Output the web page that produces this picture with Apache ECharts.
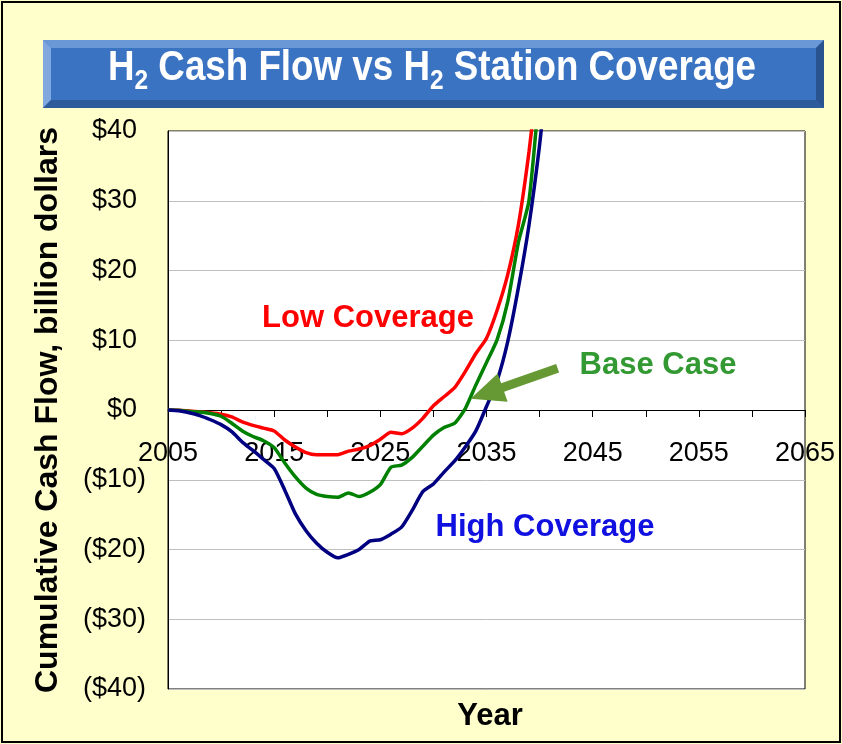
<!DOCTYPE html>
<html>
<head>
<meta charset="utf-8">
<title>H2 Cash Flow vs H2 Station Coverage</title>
<script src="https://cdn.jsdelivr.net/npm/echarts@6.0.0/dist/echarts.min.js"></script>
<style>
  html, body { margin: 0; padding: 0; background: #ffffcc; }
  #chart { width: 842px; height: 744px; }
</style>
</head>
<body>
<div id="chart"></div>
<script>
// cumulative cash flow, billion dollars
const years = [2005, 2006, 2007, 2008, 2009, 2010, 2011, 2012, 2013, 2014, 2015, 2016,
  2017, 2018, 2019, 2020, 2021, 2022, 2023, 2024, 2025, 2026, 2027, 2028, 2029, 2030,
  2031, 2032, 2033, 2034, 2035, 2036, 2037, 2038, 2039, 2040, 2041];
const lowCoverage = [0, -0.05, -0.15, -0.25, -0.4, -0.6, -1.0, -1.7, -2.2, -2.6, -3.0, -4.3,
  -5.3, -6.1, -6.4, -6.4, -6.4, -5.9, -5.6, -5.1, -4.2, -3.2, -3.4, -2.6, -1.2, 0.6,
  1.9, 3.2, 5.5, 8.1, 10.3, 14.3, 19.4, 26.5, 37, 50, 64];
const baseCase = [0, -0.05, -0.2, -0.3, -0.5, -0.9, -1.9, -3.0, -3.8, -4.4, -5.4, -7.6,
  -9.6, -11.2, -12.1, -12.4, -12.5, -11.9, -12.4, -11.8, -10.7, -8.2, -7.9, -6.8, -5.2, -3.6,
  -2.5, -1.9, 0.2, 3.6, 6.8, 10.1, 15.5, 24, 30, 46, 62];
const highCoverage = [0, -0.1, -0.4, -0.8, -1.4, -2.1, -3.1, -4.6, -5.8, -7.1, -8.4, -11.5,
  -14.9, -17.3, -19.1, -20.4, -21.2, -20.7, -20.0, -18.8, -18.6, -17.8, -16.8, -14.4, -11.7, -10.6,
  -8.9, -7.3, -5.3, -3.0, 0.5, 4.2, 9.8, 17.5, 26.5, 38, 52];
const xLabels = [2005, 2015, 2025, 2035, 2045, 2055, 2065];

const chart = echarts.init(document.getElementById("chart"));

function pairs(vals) {
  return years.map((y, i) => [y, vals[i]]);
}

function money(v) {
  if (v < 0) return "($" + (-v) + ")";
  return "$" + v + "{h|)}"; // hidden bracket keeps the digits lined up like Excel
}

const font = "Liberation Sans, Arial, sans-serif";
const gridTop = 131, gridBottom = 55;
const plotH = 744 - gridTop - gridBottom;

chart.setOption({
  backgroundColor: "#ffffcc",
  animation: false,
  grid: {
    left: 168,
    top: gridTop,
    right: 37,
    bottom: gridBottom,
    show: true,
    backgroundColor: "#fff",
    borderColor: "#000",
    borderWidth: 1,
  },
  xAxis: {
    type: "value",
    min: 2005,
    max: 2065,
    interval: 5,
    // the axis crosses at $0, halfway up the plot
    offset: -plotH / 2,
    axisLine: { onZero: false, lineStyle: { color: "#000", width: 1 } },
    axisTick: { show: true, length: 7, lineStyle: { color: "#000" } },
    splitLine: { show: false },
    axisLabel: {
      margin: 30,
      color: "#000",
      fontFamily: font,
      fontSize: 27,
      formatter: (v) => (xLabels.indexOf(v) >= 0 ? String(v) : ""),
    },
  },
  yAxis: {
    type: "value",
    min: -40,
    max: 40,
    interval: 10,
    name: "Cumulative Cash Flow, billion dollars",
    nameLocation: "middle",
    nameRotate: 90,
    nameGap: 104,
    nameTextStyle: { color: "#000", fontFamily: font, fontSize: 32, fontWeight: "bold" },
    axisLine: { show: true, lineStyle: { color: "#000" } },
    axisTick: { show: false },
    splitLine: { lineStyle: { color: "#bfbfbf", width: 1 } },
    axisLabel: {
      margin: 22,
      color: "#000",
      fontFamily: font,
      fontSize: 27,
      formatter: money,
      rich: { h: { color: "rgba(0,0,0,0)", fontFamily: font, fontSize: 27 } },
    },
  },
  series: [
    {
      name: "Low Coverage",
      type: "line",
      data: pairs(lowCoverage),
      showSymbol: false,
      smooth: 0.2,
      lineStyle: { color: "#ff0000", width: 3.5 },
      z: 3,
    },
    {
      name: "Base Case",
      type: "line",
      data: pairs(baseCase),
      showSymbol: false,
      smooth: 0.2,
      lineStyle: { color: "#008000", width: 3.5 },
      z: 3,
    },
    {
      name: "High Coverage",
      type: "line",
      data: pairs(highCoverage),
      showSymbol: false,
      smooth: 0.2,
      lineStyle: { color: "#000080", width: 3.5 },
      z: 3,
    },
  ],
});

// title banner with bevelled edges
const bx0 = 43, by0 = 40, bx1 = 824, by1 = 108, bv = 8;
const graphics = [
  { type: "rect", z: 10, shape: { x: 2, y: 2, width: 838, height: 740 },
    style: { fill: "none", stroke: "#000", lineWidth: 2 } },
  { type: "rect", z: 10, shape: { x: bx0, y: by0, width: bx1 - bx0, height: by1 - by0 },
    style: { fill: "#3b73c3" } },
  { type: "polygon", z: 11, shape: { points: [[bx0, by0], [bx1, by0], [bx1 - bv, by0 + bv], [bx0 + bv, by0 + bv]] },
    style: { fill: "#6a98d6" } },
  { type: "polygon", z: 11, shape: { points: [[bx0, by0], [bx0 + bv, by0 + bv], [bx0 + bv, by1 - bv], [bx0, by1]] },
    style: { fill: "#80a7de" } },
  { type: "polygon", z: 11, shape: { points: [[bx0, by1], [bx0 + bv, by1 - bv], [bx1 - bv, by1 - bv], [bx1, by1]] },
    style: { fill: "#2d5b9c" } },
  { type: "polygon", z: 11, shape: { points: [[bx1, by0], [bx1, by1], [bx1 - bv, by1 - bv], [bx1 - bv, by0 + bv]] },
    style: { fill: "#29538f" } },
  { type: "text", z: 12, x: 432, y: 68, scaleX: 0.875,
    style: {
      text: "H{s|2} Cash Flow vs H{s|2} Station Coverage",
      font: "bold 42px " + font,
      fill: "#fff",
      align: "center",
      verticalAlign: "middle",
      textShadowColor: "#1a1a1a",
      textShadowOffsetX: 2,
      textShadowOffsetY: 2,
      rich: {
        s: { fontSize: 28, fontWeight: "bold", fontFamily: font, fill: "#fff", padding: [26, 0, 0, 0],
          textShadowColor: "#1a1a1a", textShadowOffsetX: 2, textShadowOffsetY: 2 },
      },
    } },
  { type: "text", z: 12, x: 368, y: 318,
    style: { text: "Low Coverage", font: "bold 31px " + font, fill: "#ff0000", align: "center", verticalAlign: "middle" } },
  { type: "text", z: 12, x: 658, y: 365,
    style: { text: "Base Case", font: "bold 31px " + font, fill: "#339933", align: "center", verticalAlign: "middle" } },
  { type: "text", z: 12, x: 545, y: 527,
    style: { text: "High Coverage", font: "bold 31px " + font, fill: "#1010e0", align: "center", verticalAlign: "middle" } },
  { type: "text", z: 12, x: 490, y: 716,
    style: { text: "Year", font: "bold 31px " + font, fill: "#000", align: "center", verticalAlign: "middle" } },
];

// arrow pointing at the base case curve, anchored in data space
const from = chart.convertToPixel({ gridIndex: 0 }, [2041.7, 6.0]);
const tip = chart.convertToPixel({ gridIndex: 0 }, [2033.5, 1.6]);
const dx = tip[0] - from[0], dy = tip[1] - from[1];
const len = Math.sqrt(dx * dx + dy * dy);
const ux = dx / len, uy = dy / len, nx = -uy, ny = ux;
const head = 34, hw = 15, sw = 4.5;
const bxp = tip[0] - ux * head, byp = tip[1] - uy * head;
graphics.push({
  type: "polygon", z: 12,
  shape: { points: [
    [from[0] + nx * sw, from[1] + ny * sw],
    [bxp + nx * sw, byp + ny * sw],
    [bxp + nx * hw, byp + ny * hw],
    tip,
    [bxp - nx * hw, byp - ny * hw],
    [bxp - nx * sw, byp - ny * sw],
    [from[0] - nx * sw, from[1] - ny * sw],
  ] },
  style: { fill: "#669933" },
});

chart.setOption({ graphic: graphics });
</script>
</body>
</html>
